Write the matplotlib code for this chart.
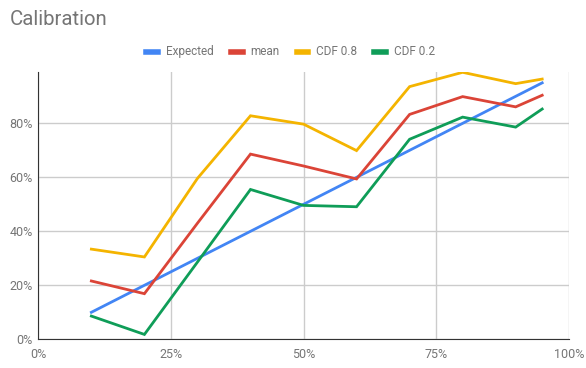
import matplotlib
matplotlib.use("Agg")
import matplotlib.pyplot as plt
from matplotlib.ticker import PercentFormatter

plt.rcParams['font.family'] = ['Roboto', 'DejaVu Sans']

# valores (fracciones)
x = [0.10, 0.20, 0.30, 0.40, 0.50, 0.60, 0.70, 0.80, 0.90, 0.95]
expected = [0.10, 0.20, 0.30, 0.40, 0.50, 0.60, 0.70, 0.80, 0.90, 0.95]
mean = [0.216, 0.169, 0.43, 0.686, 0.642, 0.594, 0.833, 0.899, 0.861, 0.904]
cdf_08 = [0.334, 0.305, 0.596, 0.828, 0.797, 0.699, 0.936, 0.989, 0.947, 0.964]
cdf_02 = [0.086, 0.018, 0.286, 0.555, 0.496, 0.491, 0.741, 0.823, 0.786, 0.853]

series = [
    ("Expected", expected, "#4285F4"),
    ("mean", mean, "#DB4437"),
    ("CDF 0.8", cdf_08, "#F4B400"),
    ("CDF 0.2", cdf_02, "#0F9D58"),
]

fig = plt.figure(figsize=(5.86, 3.68), dpi=100)
ax = fig.add_axes([0.0654, 0.078, 0.9051, 0.7255])

for nombre, valores, color in series:
    ax.plot(x, valores, color=color, lw=2, label=nombre, solid_joinstyle='miter')

ax.set_xlim(0, 1)
ax.set_ylim(0, 0.989)
ax.set_xticks([0, 0.25, 0.5, 0.75, 1.0])
ax.set_yticks([0, 0.2, 0.4, 0.6, 0.8])
ax.xaxis.set_major_formatter(PercentFormatter(1.0, decimals=0))
ax.yaxis.set_major_formatter(PercentFormatter(1.0, decimals=0))
ax.grid(True, color="#cccccc", lw=1)
ax.set_axisbelow(True)

for lado in ["top", "right"]:
    ax.spines[lado].set_visible(False)
ax.spines["left"].set_color("#333333")
ax.spines["bottom"].set_color("#333333")
ax.tick_params(length=0, labelsize=9, colors="#757575", pad=4)
ax.tick_params(axis='x', pad=6)

fig.text(0.017, 0.948, "Calibration", fontsize=14.7, color="#757575", va="center")
fig.legend(loc="center", bbox_to_anchor=(0.496, 0.859), ncol=4, frameon=False,
           fontsize=8.5, labelcolor="#757575", handlelength=1.0, handleheight=0.5,
           columnspacing=1.45, handletextpad=0.65)
for linea in fig.legends[0].get_lines():
    linea.set_linewidth(4)

fig.savefig("out.png", dpi=100)
